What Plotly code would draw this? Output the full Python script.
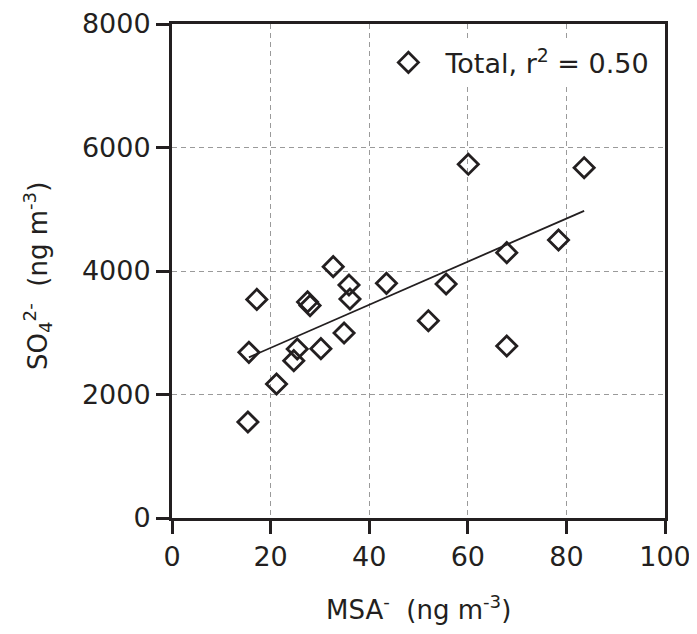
import plotly.graph_objects as go

# Data
msa = [15.4, 15.6, 17.2, 21.2, 24.7, 25.4, 27.5, 28.0, 30.2, 32.7, 34.9,
       35.9, 36.1, 43.5, 52.0, 55.6, 60.1, 67.9, 67.9, 78.4, 83.6]
so4 = [1555, 2683, 3540, 2170, 2548, 2737, 3500, 3440, 2742, 4070, 2996,
       3773, 3546, 3800, 3195, 3790, 5728, 2785, 4297, 4502, 5673]

# regression line
fit_x = [15.6, 83.6]
fit_slope = 34.9
fit_intercept = 2057

x_ticks = [0, 20, 40, 60, 80, 100]
y_ticks = [0, 2000, 4000, 6000, 8000]

FONT = "DejaVu Sans"
INK = "#231f20"

# page has default 8px body margin; figure sized to fit the window
W, H = 689, 618
L, R, T, B = 164, 32, 16, 108

fig = go.Figure()
fig.add_trace(go.Scatter(
    x=fit_x, y=[fit_intercept + fit_slope * v for v in fit_x],
    mode="lines", line=dict(color=INK, width=1.8), showlegend=False,
    hoverinfo="skip"))
fig.add_trace(go.Scatter(
    x=msa, y=so4, mode="markers", name="Total, r<sup>2</sup> = 0.50",
    marker=dict(symbol="diamond-open", size=15.5, color=INK,
                line=dict(color=INK, width=2.8))))

axis_common = dict(
    showline=True, linecolor=INK, linewidth=3, mirror=True,
    ticks="outside", ticklen=13, tickwidth=3, tickcolor=INK,
    showgrid=True, gridcolor="#9a9a9a", griddash="5px,4px", gridwidth=1,
    zeroline=False, tickfont=dict(family=FONT, size=27, color=INK),
    automargin=False, ticklabeloverflow="allow",
)

fig.update_layout(
    width=W, height=H,
    margin=dict(l=L, r=R, t=T, b=B, autoexpand=False),
    paper_bgcolor="white", plot_bgcolor="white",
    font=dict(family=FONT, color=INK),
    xaxis=dict(range=[0, 100], tickvals=x_ticks, **axis_common),
    yaxis=dict(range=[0, 8000], tickvals=y_ticks, **axis_common),
    legend=dict(x=0.4045, y=0.971, xanchor="left", yanchor="top",
                itemwidth=64,
                bgcolor="rgba(255,255,255,1)", borderwidth=0,
                font=dict(family=FONT, size=27, color=INK)),
    annotations=[
        dict(text="MSA<sup>-</sup>  (ng m<sup>-3</sup>)", xref="paper",
             yref="paper", x=0.5, y=0, xanchor="center", yanchor="middle",
             yshift=-90, showarrow=False,
             font=dict(family=FONT, size=26, color=INK)),
        dict(text="SO<sub>4</sub><sup>2-</sup>  (ng m<sup>-3</sup>)",
             xref="paper", yref="paper", x=0, y=0.49, xanchor="center",
             yanchor="middle", xshift=-134, textangle=-90, showarrow=False,
             font=dict(family=FONT, size=26, color=INK)),
    ],
)

fig.write_html("out.html")
